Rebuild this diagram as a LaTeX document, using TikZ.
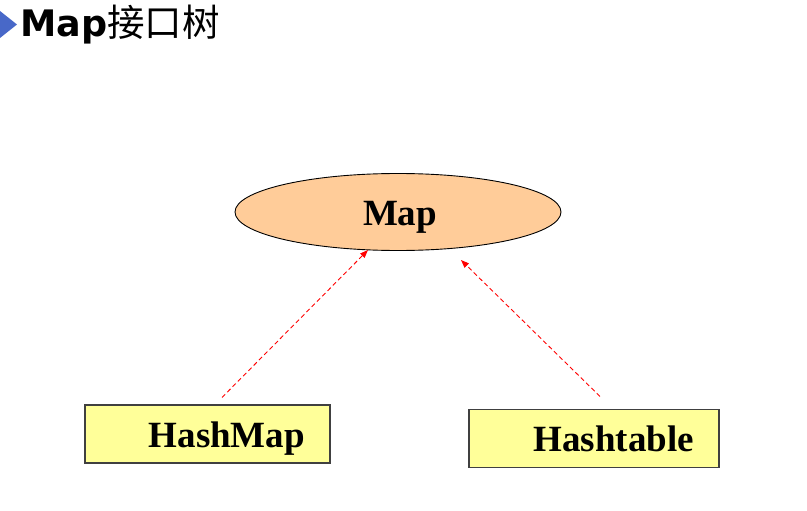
\documentclass[tikz,border=0pt]{standalone}
\usepackage{fontspec}
\setmainfont{Liberation Serif}
\newfontfamily\titlefont{DejaVu Sans}
\newfontfamily\cjkfont{Noto Sans CJK SC}
\usetikzlibrary{shapes.geometric,arrows.meta,calc}
\definecolor{peach}{RGB}{255,204,153}
\definecolor{lightyel}{RGB}{255,255,153}
\definecolor{bulletblue}{RGB}{72,104,200}
\definecolor{boxedge}{RGB}{64,64,64}
\tikzset{
  classbox/.style={draw=boxedge, line width=1.1pt, fill=lightyel, rectangle,
    minimum height=58pt, inner xsep=25pt, inner ysep=0pt, align=right,
    text height=26.5pt, text depth=0pt,
    font=\fontsize{37}{40}\selectfont\bfseries},
  ifacebox/.style={draw=black, line width=0.9pt, fill=peach, ellipse,
    minimum width=326pt, minimum height=77pt, inner sep=0pt,
    text height=26pt, text depth=0pt,
    font=\fontsize{37}{40}\selectfont\bfseries},
  implarrow/.style={red, line width=0.9pt, dash pattern=on 4.5pt off 3pt,
    -{Triangle[length=8pt,width=6pt]}}
}
\begin{document}
\begin{tikzpicture}[x=1pt,y=-1pt]
\useasboundingbox (0,0) rectangle (807,511);
% title bullet
\fill[bulletblue] (0,11) -- (17,24.5) -- (0,38) -- (-17,24.5) -- cycle;
\node[anchor=base west, inner sep=0pt] (title) at (20,36.5)
  {{\fontsize{36.5}{40}\selectfont\titlefont\bfseries Map}{\fontsize{37.5}{40}\selectfont\cjkfont 接口树}};
% nodes
\node[ifacebox] (map) at (398,212) {\hspace*{4pt}Map};
\node[classbox, text width=195pt] (hm) at (207.5,434) {HashMap};
\node[classbox, text width=200pt] (ht) at (594,438.5) {Hashtable};
% connectors
\coordinate (hmtop) at ($(hm.north)+(14.5,-7)$);
\coordinate (httop) at ($(ht.north)+(6,-12.5)$);
\coordinate (leftend) at (368,250);
\coordinate (rightend) at (461,260);
\draw[implarrow] (hmtop) -- (leftend);
\draw[implarrow] (httop) -- (rightend);
\end{tikzpicture}
\end{document}
